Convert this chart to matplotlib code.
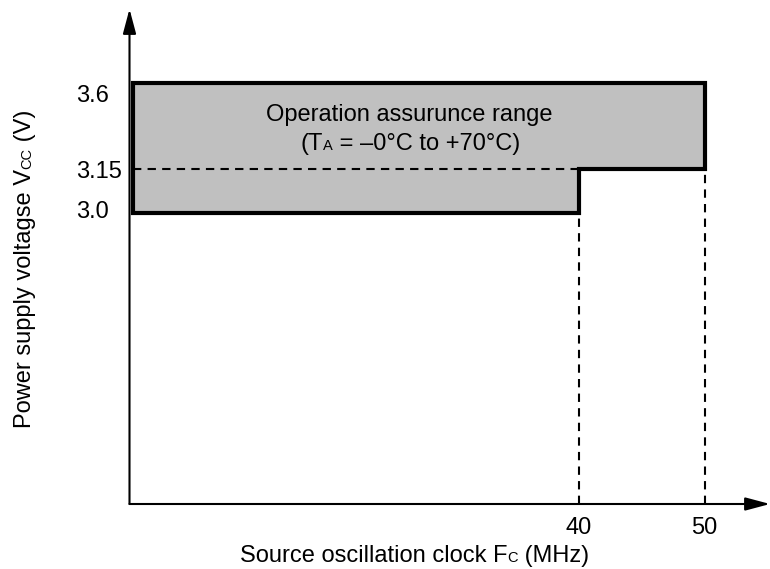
import matplotlib.pyplot as plt
import numpy as np

plt.rcParams['font.family'] = ['Liberation Sans', 'DejaVu Sans']

# operating range (frequency in MHz, voltage in V)
freq_min, freq_step, freq_max = 4.6, 40, 50
v_low, v_mid, v_high = 3.0, 3.15, 3.6

x_ticks = [40, 50]
x_tick_labels = ['40', '50']
y_ticks = [3.0, 3.15, 3.6]
y_tick_labels = ['3.0', '3.15', '3.6']

# voltage axis is schematic (not to scale) -> piecewise mapping
y_knots = [2.0, 3.0, 3.15, 3.6, 3.9]
y_pos = [0, 291, 335, 421, 495]

FS = 17
FS_SMALL = 10.5

W, H = 770, 569
fig = plt.figure(figsize=(W / 100, H / 100), dpi=100)
ax = fig.add_axes([129.5 / W, 65 / H, 640.5 / W, 495 / H])
ax.set_yscale('function', functions=(lambda v: np.interp(v, y_knots, y_pos),
                                     lambda p: np.interp(p, y_pos, y_knots)))
ax.set_xlim(4.33, 55.2)
ax.set_ylim(y_knots[0], y_knots[-1])

xs = [freq_min, freq_max, freq_max, freq_step, freq_step, freq_min]
ys = [v_high, v_high, v_mid, v_mid, v_low, v_low]
ax.fill(xs, ys, facecolor='#c0c0c0', edgecolor='none', zorder=1)

dash = (0, (4, 3))
ax.plot([freq_min, freq_step], [v_mid, v_mid], color='black', lw=1.5, ls=dash, zorder=2)
ax.plot([freq_step, freq_step], [y_knots[0], v_low], color='black', lw=1.5, ls=dash, zorder=2)
ax.plot([freq_max, freq_max], [y_knots[0], v_mid], color='black', lw=1.5, ls=dash, zorder=2)

ax.fill(xs, ys, facecolor='none', edgecolor='black', lw=3, joinstyle='miter', zorder=3)

for s in ax.spines.values():
    s.set_visible(False)

# axes with arrow heads
arrow = dict(arrowstyle='-|>,head_length=0.75,head_width=0.2', mutation_scale=20,
             lw=1.5, color='black', shrinkA=0, shrinkB=0)
ax.annotate('', xy=(1, 0), xytext=(0, 0), xycoords='axes fraction', arrowprops=arrow,
            annotation_clip=False)
ax.annotate('', xy=(0, 1), xytext=(0, 0), xycoords='axes fraction', arrowprops=arrow,
            annotation_clip=False)

ax.set_xticks(x_ticks, x_tick_labels)
ax.tick_params(axis='x', length=0, labelsize=FS, pad=9.5)
ax.set_yticks([])

label_dy = [3, 0, -10]
for v, lab, dy in zip(y_ticks, y_tick_labels, label_dy):
    ax.annotate(lab, xy=(0, v), xycoords=('axes fraction', 'data'),
                xytext=(-53.5, dy), textcoords='offset pixels',
                ha='left', va='center_baseline', fontsize=FS)


def rich_text(x, y, pieces, rotation=0):
    # pieces drawn one after another on a common baseline; x, y in pixels from top-left
    renderer = fig.canvas.get_renderer()
    for s, size in pieces:
        t = fig.text(x / W, 1 - y / H, s, fontsize=size, rotation=rotation,
                     rotation_mode='anchor', ha='left', va='baseline')
        bb = t.get_window_extent(renderer)
        if rotation == 0:
            x += bb.width
        else:
            y -= bb.height


rich_text(240, 562, [('Source oscillation clock F', FS), ('C', FS_SMALL), (' (MHz)', FS)])
rich_text(31, 428, [('Power supply voltagse V', FS), ('CC', FS_SMALL), (' (V)', FS)], rotation=90)

fig.text(409 / W, 1 - 121 / H, 'Operation assurunce range', fontsize=FS,
         ha='center', va='baseline')
rich_text(301, 150, [('(T', FS), ('A', FS_SMALL), (' = –0°C to +70°C)', FS)])

fig.savefig('out.png', dpi=100)
